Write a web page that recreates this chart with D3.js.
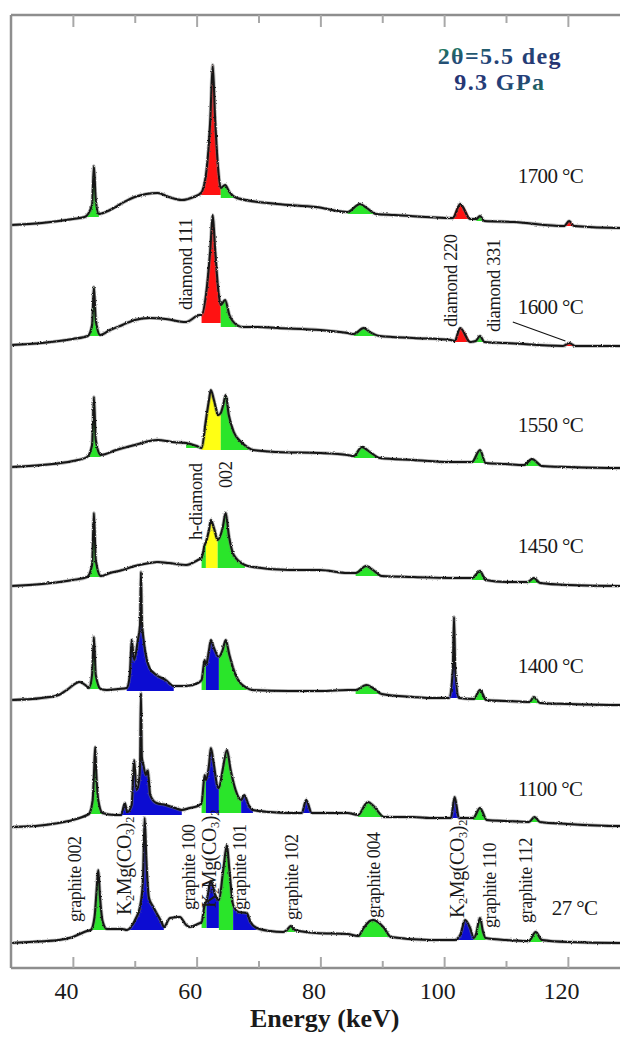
<!DOCTYPE html>
<html><head><meta charset="utf-8">
<script src="https://cdn.jsdelivr.net/npm/d3@7"></script>
<style>
html,body{margin:0;padding:0;background:#fff;}
svg{display:block;}
text{font-family:"Liberation Serif","Times New Roman",serif;fill:#1a1a1a;}
</style></head><body>
<svg id="chart" width="620" height="1037"></svg>
<script>
// ---------------- data ----------------
const temperatureLabels = ["1700 °C","1600 °C","1550 °C","1450 °C","1400 °C","1100 °C","27 °C"];
const stackOffsets = [743, 623, 501, 382, 268, 141, 25];
const majorTicks = [40, 60, 80, 100, 120];
const minorTicks = [50, 70, 90, 110];

// [energy keV, intensity a.u. above stack offset]
const s1700 = [[30,0],[35,2],[40,6],[41.9,8],[43.1,20],[43.4,59],[43.7,25],[44.2,11],[46,15],[48,22],[50,28],[53.7,32],[55.5,28],[57.6,25],[59.5,28],[60.7,32],[61.6,55],[62.2,105],[62.6,160],[63.0,105],[63.5,55],[63.9,37],[64.6,40],[65.3,33],[66.5,27],[73,21],[79.3,18],[84.4,13],[86.4,21],[87.5,17],[89.0,11],[92,10],[101.4,7],[102.6,21],[104.2,6],[105.2,6],[105.8,9],[106.5,4],[111.3,3],[119.4,-1],[120.2,4],[121,-1],[128.4,-3],[130,-3]];
const s1600 = [[30,0],[35,2],[40,6],[42.4,9],[43.1,20],[43.4,58],[43.7,25],[44.4,10],[46,15],[48,20],[50,25],[52.4,27],[55,26],[58.3,23],[60.5,30],[60.8,30],[61.6,55],[62.2,95],[62.6,130],[63.0,95],[63.5,55],[63.9,40],[64.6,45],[65.3,30],[66.5,20],[67.5,18],[70,18],[73,17],[80,15],[84.4,12],[85.4,11],[87.0,17],[88,13],[89.6,9],[95,7],[101.1,5],[101.7,4],[102.6,17],[104.2,3],[105.1,4],[105.8,9],[106.5,3],[110,2],[119.2,-1],[120.2,2],[121.2,-1],[128.4,-1],[130,-1]];
const s1550 = [[30,0],[35,2],[40,6],[42.3,10],[43.1,22],[43.4,70],[43.7,27],[44.5,12],[47,17],[50,22],[53.7,27],[56,25],[58.3,24],[60,21],[60.8,19],[61.5,47],[62.0,67],[62.3,77],[62.8,67],[63.5,52],[63.9,54],[64.3,62],[64.7,72],[65.2,52],[66.0,35],[67.2,25],[68.4,19],[69.1,17],[73,15],[80,14],[84.4,12],[85.4,11],[86.7,20],[88,15],[89.6,9],[95,7],[101,5],[104.5,5],[105.8,17],[106.7,4],[110,3],[112.9,2],[114.2,8],[115.8,1],[120,0],[128.4,-1],[130,-1]];
const s1450 = [[30,0],[35,2],[40,6],[42.3,9],[43.1,21],[43.4,73],[43.7,26],[44.5,10],[46,13],[48,16],[50,20],[52.4,23],[53.7,24],[55.5,23],[58.3,21],[60.2,26],[60.8,28],[61.3,41],[61.5,44],[62.0,56],[62.3,66],[62.8,58],[63.4,46],[64.2,58],[64.7,73],[65.2,51],[66.0,31],[67.8,21],[69.1,19],[75,16],[79.9,16],[84.4,13],[85.7,13],[87.4,20],[88.5,16],[89.9,10],[95,9],[101,8],[104.5,8],[105.8,15],[106.7,6],[110,4],[113.5,4],[114.5,8],[115.5,3],[120,1],[128.4,0],[130,0]];
const s1400 = [[30,0],[35,2],[37.7,5],[39,10],[41.1,18],[42.0,15],[42.6,12],[43.1,25],[43.4,63],[43.7,25],[44.5,11],[45.5,10],[47.4,11],[48.7,12],[49.2,25],[49.5,60],[49.9,40],[50.5,60],[50.85,75],[51.0,128],[51.15,80],[51.4,62],[51.8,45],[52.4,32],[53.5,25],[55,20],[56.3,14],[58.3,14],[60.2,17],[60.8,20],[61.3,40],[61.5,35],[62.0,50],[62.3,60],[62.8,52],[63.6,43],[64.2,50],[64.7,60],[65.3,45],[66.3,25],[68.1,12],[69.1,10],[75,9],[80,9],[84.4,10],[85.7,10],[87.4,15],[88.5,12],[89.9,6],[95,3],[97.7,2],[100.8,2],[101.4,30],[101.6,83],[101.8,30],[102.4,2],[104.8,1],[105.8,10],[106.8,0],[110,-1],[113.8,-2],[114.5,3],[115.5,-3],[120,-4],[128.4,-5],[130,-5]];
const s1100 = [[30,0],[34,1],[37.7,4],[40,7],[42.3,12],[42.6,13],[43.2,27],[43.4,52],[43.6,80],[43.8,52],[44.1,27],[44.8,14],[46.8,12],[47.8,12],[48.4,24],[48.8,15],[49.5,22],[49.9,67],[50.3,37],[50.7,47],[50.85,60],[51.0,134],[51.15,70],[51.4,62],[51.8,52],[52.1,57],[52.5,32],[53.5,24],[55,22],[56.5,19],[57.6,17],[58.9,19],[60.2,21],[60.8,24],[61.3,52],[61.5,47],[62.0,62],[62.3,79],[62.8,62],[63.3,42],[63.6,39],[64.2,57],[64.9,77],[65.5,57],[66.3,37],[67.2,27],[67.7,32],[68.4,22],[69.1,17],[71.8,15],[75,14],[77.0,14],[77.7,27],[78.6,14],[80,14],[84.4,14],[86.1,12],[87.2,22],[87.7,25],[88.6,21],[90.3,10],[95,10],[97.7,9],[101.1,9],[101.7,30],[102.4,9],[104.7,9],[105.8,19],[106.9,7],[110,6],[113.7,5],[114.6,10],[115.5,5],[120,3],[128.4,1],[130,1]];
const s27 = [[30,0],[33,1],[37.7,3],[40,6],[41.1,9],[42.3,12],[42.9,13],[43.5,26],[43.8,50],[44.1,73],[44.4,45],[44.8,22],[45.5,14],[46.8,14],[48,14],[48.7,13],[49.5,17],[50.2,25],[50.8,35],[51.3,60],[51.6,125],[51.9,80],[52.3,45],[53.0,36],[53.7,28],[54.4,20],[54.7,16],[55.7,25],[57.3,26],[58.3,18],[58.9,16],[60.2,19],[60.8,21],[61.3,38],[61.6,42],[62.3,62],[63.0,48],[63.6,43],[64.3,73],[64.9,98],[65.3,73],[65.9,38],[66.8,31],[68.1,30],[68.7,21],[69.7,15],[71.8,12],[74,11],[74.6,13],[75.2,17],[75.9,13],[79.3,10],[84.4,9],[86.1,7],[87,15],[88,22],[88.6,23],[89.3,21],[90.3,15],[91.4,6],[97.7,3],[101.7,3],[102.6,8],[103.4,23],[104.2,15],[104.8,5],[105.1,8],[105.8,25],[106.3,11],[106.7,5],[110,3],[113.7,2],[114.8,11],[115.8,3],[120,1],[128.4,0],[130,0]];
const spectra = [s1700, s1600, s1550, s1450, s1400, s1100, s27];

// coloured peak areas: [from keV, to keV, base intensity, phase]
const f1700 = [[41.9,44.2,8,"g"],[60.7,63.9,30,"r"],[63.9,66.5,27,"g"],[84.4,89.0,11,"g"],[101.4,104.2,6,"r"],[105.2,106.5,4,"g"],[119.4,121.0,-1,"r"]];
const f1600 = [[42.4,44.4,9,"g"],[60.8,63.9,22,"r"],[63.9,67.5,18,"g"],[85.4,89.6,9,"g"],[101.7,104.2,3,"r"],[105.1,106.5,3,"g"],[119.2,121.2,-1,"r"]];
const f1550 = [[42.3,44.5,10,"g"],[58.3,60.8,19,"g"],[60.8,63.9,17,"y"],[63.9,68.4,17,"g"],[85.4,89.6,9,"g"],[104.5,106.7,4,"g"],[112.9,115.8,1,"g"]];
const f1450 = [[42.3,44.5,9,"g"],[60.8,61.5,18,"g"],[61.5,63.4,18,"y"],[63.4,67.8,18,"g"],[85.7,89.9,10,"g"],[104.5,106.7,6,"g"],[113.5,115.5,3,"g"]];
const f1400 = [[42.6,44.5,11,"g"],[48.7,56.3,9,"b"],[60.8,61.5,10,"g"],[61.5,63.6,10,"b"],[63.6,68.1,10,"g"],[85.7,89.9,6,"g"],[100.8,102.4,2,"b"],[104.8,106.8,0,"g"],[113.8,115.5,-3,"g"]];
const f1100 = [[42.6,44.8,13,"g"],[47.8,57.6,12,"b"],[60.8,61.5,14,"g"],[61.5,63.6,14,"b"],[63.6,67.2,14,"g"],[67.2,69.1,14,"b"],[77.0,78.6,14,"b"],[86.1,90.3,10,"g"],[101.1,102.4,9,"b"],[104.7,106.9,7,"g"],[113.7,115.5,5,"g"]];
const f27 = [[42.9,45.5,13,"g"],[48.7,54.7,13,"b"],[60.8,61.6,15,"g"],[61.6,63.6,15,"b"],[63.6,65.9,13,"g"],[65.9,69.7,13,"b"],[74.6,75.9,11,"g"],[86.1,91.4,6,"g"],[101.7,104.8,3,"b"],[104.8,106.7,3,"g"],[113.7,115.8,1,"g"]];
const fills = [f1700, f1600, f1550, f1450, f1400, f1100, f27];

const phaseColors = {g:"#2ae52a", r:"#ff1212", b:"#0c0cd2", y:"#ffff14"};

// rotated peak labels: [text, keV (baseline), stacked intensity of label start, font px]
const peakLabels = [
  ["diamond 111", 59.2, 658, 18.5],
  ["diamond 220", 102.1, 641, 18.5],
  ["diamond 331", 109.0, 636, 18.5],
  ["h-diamond", 60.8, 428, 18.5],
  ["002", 65.7, 480, 18.5],
  ["graphite 002", 41.3, 46, 18],
  ["K2Mg(CO3)2", 49.4, 53, 20],
  ["graphite 100", 59.7, 58, 18],
  ["K2Mg(CO3)2", 63.1, 60, 20],
  ["graphite 101", 68.0, 58, 18],
  ["graphite 102", 76.4, 48, 18],
  ["graphite 004", 89.6, 50, 18],
  ["K2Mg(CO3)2", 103.2, 50, 20],
  ["graphite 110", 108.4, 40, 18],
  ["graphite 112", 114.2, 45, 18]
];
// temperature label anchors: [keV, stacked intensity of baseline]
const tempLabelPos = [[111.9,785],[111.9,654],[111.9,536],[111.9,415],[111.9,295],[111.9,172],[117.4,53]];
const leader1600 = [[111.1,23],[119.6,4]];

// ---------------- drawing ----------------
const svg = d3.select("#chart");
const x = d3.scaleLinear().domain([30,130]).range([11, 629.75]);
const y = d3.scaleLinear().domain([0, 953]).range([968, 15]);

const defs = svg.append("defs");
const g1 = defs.append("linearGradient").attr("id","hg1").attr("x1","0").attr("y1","0").attr("x2","1").attr("y2","1");
g1.append("stop").attr("offset","0%").attr("stop-color","#1f8a55");
g1.append("stop").attr("offset","45%").attr("stop-color","#244a78");
g1.append("stop").attr("offset","100%").attr("stop-color","#262c70");
const g2 = defs.append("linearGradient").attr("id","hg2").attr("x1","0").attr("y1","0").attr("x2","1").attr("y2","1");
g2.append("stop").attr("offset","0%").attr("stop-color","#262c70");
g2.append("stop").attr("offset","55%").attr("stop-color","#24407a");
g2.append("stop").attr("offset","100%").attr("stop-color","#1e7a50");
const flt = defs.append("filter").attr("id","rough")
  .attr("x","-2%").attr("y","-10%").attr("width","104%").attr("height","120%");
flt.append("feTurbulence").attr("type","fractalNoise").attr("baseFrequency","0.8")
  .attr("numOctaves",1).attr("seed",4).attr("result","n");
flt.append("feDisplacementMap").attr("in","SourceGraphic").attr("in2","n")
  .attr("scale",2.6).attr("xChannelSelector","R").attr("yChannelSelector","G");

function interp(data, e){
  const i = d3.bisector(d=>d[0]).left(data, e);
  if (i<=0) return data[0][1];
  if (i>=data.length) return data[data.length-1][1];
  const a = data[i-1], b = data[i];
  return a[1] + (b[1]-a[1])*(e-a[0])/(b[0]-a[0]);
}

const fillLayer = svg.append("g");
const lineLayer = svg.append("g").attr("filter","url(#rough)");

spectra.forEach((s, k) => {
  const off = stackOffsets[k];
  fills[k].forEach(([from, to, base, ph]) => {
    const pts = [[from, interp(s, from)]]
      .concat(s.filter(d => d[0] > from && d[0] < to))
      .concat([[to, interp(s, to)]]);
    const area = d3.area().x(d=>x(d[0])).y0(y(off + base)).y1(d=>y(off + d[1])).curve(d3.curveMonotoneX);
    fillLayer.append("path").attr("d", area(pts)).attr("fill", phaseColors[ph]);
  });
  const line = d3.line().x(d=>x(d[0])).y(d=>y(off + d[1])).curve(d3.curveMonotoneX);
  lineLayer.append("path").attr("d", line(s)).attr("fill","none")
    .attr("stroke","#707070").attr("stroke-width",3.6).attr("stroke-opacity",0.5).attr("stroke-linejoin","round");
  lineLayer.append("path").attr("d", line(s)).attr("fill","none")
    .attr("stroke","#141414").attr("stroke-width",2).attr("stroke-linejoin","round");
});

// frame
const frame = svg.append("g").attr("stroke","#8e8e8e").attr("stroke-width",2.5).attr("fill","none");
frame.append("line").attr("x1",x(30)).attr("x2",x(30)).attr("y1",y(953)).attr("y2",y(0));
frame.append("line").attr("x1",x(30)).attr("x2",x(130)).attr("y1",y(953)).attr("y2",y(953));
frame.append("line").attr("x1",x(30)).attr("x2",x(130)).attr("y1",y(0)).attr("y2",y(0));

function styleAxis(g){
  g.select(".domain").remove();
  g.selectAll(".tick line").attr("stroke","#a8a8a8").attr("stroke-width",2);
}
svg.append("g").attr("transform",`translate(0,${y(0)})`)
  .call(d3.axisBottom(x).tickValues(majorTicks).tickSize(-11).tickPadding(14).tickFormat(d3.format("d")))
  .call(styleAxis)
  .call(g=>g.selectAll("text").attr("font-size",24).attr("font-family","Liberation Serif, serif").attr("fill","#1a1a1a").attr("dx",-7));
svg.append("g").attr("transform",`translate(0,${y(0)})`)
  .call(d3.axisBottom(x).tickValues(minorTicks).tickSize(-7).tickFormat(""))
  .call(styleAxis);
svg.append("g").attr("transform",`translate(0,${y(953)})`)
  .call(d3.axisTop(x).tickValues(majorTicks).tickSize(-12).tickFormat(""))
  .call(styleAxis);
svg.append("g").attr("transform",`translate(0,${y(953)})`)
  .call(d3.axisTop(x).tickValues(minorTicks).tickSize(-8).tickFormat(""))
  .call(styleAxis);

svg.append("text").attr("x", x(80.7)).attr("y", 1027).attr("text-anchor","middle")
  .attr("font-size",26).attr("font-weight","bold").text("Energy (keV)");

// header
svg.append("text").attr("x", x(109)).attr("y", 64).attr("text-anchor","middle")
  .attr("font-size",24).attr("font-weight","bold").attr("letter-spacing",1.4)
  .style("fill","url(#hg1)").text("2θ=5.5 deg");
svg.append("text").attr("x", x(109)).attr("y", 90).attr("text-anchor","middle")
  .attr("font-size",24).attr("font-weight","bold").attr("letter-spacing",1.4)
  .style("fill","url(#hg2)").text("9.3 GPa");

// temperature labels
temperatureLabels.forEach((t,k)=>{
  svg.append("text").attr("x", x(tempLabelPos[k][0])).attr("y", y(tempLabelPos[k][1]))
    .attr("font-size",21).attr("letter-spacing",-0.6).text(t);
});

// leader line
svg.append("line")
  .attr("x1", x(leader1600[0][0])).attr("y1", y(stackOffsets[1]+leader1600[0][1]))
  .attr("x2", x(leader1600[1][0])).attr("y2", y(stackOffsets[1]+leader1600[1][1]))
  .attr("stroke","#111").attr("stroke-width",1.1);

// rotated labels
peakLabels.forEach(([t, e, v, fs])=>{
  const tx = svg.append("text")
    .attr("transform", `translate(${x(e)},${y(v)}) rotate(-90)`)
    .attr("font-size", fs).attr("letter-spacing", -0.4);
  if (t.startsWith("K2Mg")) {
    const sub = fs*0.62;
    tx.append("tspan").text("K");
    tx.append("tspan").attr("font-size",sub).attr("dy",3).text("2");
    tx.append("tspan").attr("dy",-3).text("Mg(CO");
    tx.append("tspan").attr("font-size",sub).attr("dy",3).text("3");
    tx.append("tspan").attr("dy",-3).text(")");
    tx.append("tspan").attr("font-size",sub).attr("dy",3).text("2");
  } else {
    tx.text(t);
  }
});
</script>
</body></html>
